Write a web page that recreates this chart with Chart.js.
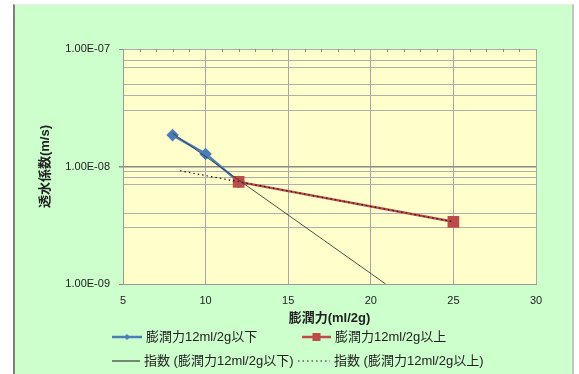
<!DOCTYPE html>
<html><head><meta charset="utf-8">
<script src="https://cdn.jsdelivr.net/npm/chart.js@4.4.1/dist/chart.umd.min.js"></script>
<style>
html,body{margin:0;padding:0;background:#fff;}
#wrap{position:relative;width:579px;height:374px;overflow:hidden;}
#frame{position:absolute;left:13px;top:4px;width:561px;height:370px;background:#ccffcc;border-left:2px solid #7f7f7f;border-right:2px solid #c4c4c4;border-top:1px solid #e6eee6;box-sizing:border-box;}
#c{position:absolute;left:0;top:0;}
#legend{position:absolute;left:0;top:0;width:579px;height:374px;font-family:"Liberation Sans","Noto Sans CJK JP",sans-serif;font-size:13px;color:#222;}
.item{position:absolute;display:flex;align-items:center;white-space:nowrap;height:16px;line-height:16px;}
.item svg{display:block;margin-right:4px;}
</style></head>
<body>
<div id="wrap">
  <div id="frame"></div>
  <canvas id="c" width="579" height="374"></canvas>
  <div id="legend"></div>
</div>
<script>
// ---- data ----
const blueX = [8, 10, 12];
const blueY = [1.85e-8, 1.28e-8, 7.4e-9];
const redX = [12, 25];
const redY = [7.4e-9, 3.38e-9];
const trendBelowX = [8, 20.9];
const trendBelowY = [1.92e-8, 1.0e-9];
const trendAboveX = [8.45, 25];
const trendAboveY = [9.2e-9, 3.38e-9];
const seriesNames = ['膨潤力12ml/2g以下', '膨潤力12ml/2g以上', '指数 (膨潤力12ml/2g以下)', '指数 (膨潤力12ml/2g以上)'];
const xTicks = [5, 10, 15, 20, 25, 30];
const yMajorTicks = [1e-9, 1e-8, 1e-7];
const yTickLabels = ['1.00E-09', '1.00E-08', '1.00E-07'];
const yMinorGrid = [3e-9, 4e-9, 7e-9, 8e-9, 9e-9, 3e-8, 4e-8, 5e-8, 7e-8, 8e-8];
const xTitle = '膨潤力(ml/2g)';
const yTitle = '透水係数(m/s)';

const pts = (xs, ys) => xs.map((x, i) => ({x: x, y: ys[i]}));
const FONT = '"Liberation Sans","Noto Sans CJK JP",sans-serif';

const bgPlugin = {
  id: 'plotBg',
  beforeDraw(chart) {
    const a = chart.chartArea, ctx = chart.ctx;
    ctx.save(); ctx.fillStyle = '#ffffcc';
    ctx.fillRect(a.left, a.top, a.right - a.left, a.bottom - a.top);
    ctx.restore();
  }
};
const topTicksPlugin = {
  id: 'topTicks',
  afterDatasetsDraw(chart) {
    const xs = chart.scales.x, a = chart.chartArea, ctx = chart.ctx;
    ctx.save(); ctx.strokeStyle = '#8a8a8a'; ctx.lineWidth = 1;
    for (let v = xs.min + 1; v < xs.max; v++) {
      if (xTicks.includes(v)) continue;
      const px = Math.round(xs.getPixelForValue(v)) + 0.5;
      ctx.beginPath(); ctx.moveTo(px, a.top); ctx.lineTo(px, a.top + 3); ctx.stroke();
    }
    ctx.restore();
  }
};

const chart = new Chart(document.getElementById('c'), {
  type: 'scatter',
  data: {
    datasets: [
      {label: seriesNames[0], data: pts(blueX, blueY), showLine: true, borderColor: '#4a7ebb', backgroundColor: '#4a7ebb',
       borderWidth: 2.5, pointStyle: 'rectRot', pointRadius: 4.5, pointHoverRadius: 4.5, order: 4},
      {label: seriesNames[1], data: pts(redX, redY), showLine: true, borderColor: '#be4b48', backgroundColor: '#be4b48',
       borderWidth: 2.5, pointStyle: 'rect', pointRadius: 6.5, pointHoverRadius: 6.5, order: 3},
      {label: seriesNames[2], data: pts(trendBelowX, trendBelowY), showLine: true, borderColor: '#3a3a3a',
       borderWidth: 0.9, pointRadius: 0, order: 1},
      {label: seriesNames[3], data: pts(trendAboveX, trendAboveY), showLine: true, borderColor: '#1a1a1a',
       borderWidth: 1.2, borderDash: [1.5, 3], pointRadius: 0, order: 2}
    ]
  },
  options: {
    responsive: false, animation: false, devicePixelRatio: 1,
    layout: {padding: {left: 0, top: 49, right: 43, bottom: 0}},
    plugins: {legend: {display: false}, tooltip: {enabled: false}},
    scales: {
      x: {
        type: 'linear', min: 5, max: 30,
        afterBuildTicks: s => { s.ticks = xTicks.map(v => ({value: v})); },
        afterFit: s => { s.height = 90; },
        ticks: {font: {family: FONT, size: 11}, color: '#222', padding: 10},
        grid: {color: '#a8a8a8', lineWidth: 1, drawTicks: false},
        border: {display: true, color: '#9a9a9a', width: 1},
        title: {display: true, text: xTitle, font: {family: FONT, size: 13, weight: 'bold'}, color: '#222', padding: {top: 0, bottom: 48}}
      },
      y: {
        type: 'logarithmic', min: 1e-9, max: 1e-7,
        afterBuildTicks: s => {
          s.ticks = [...yMajorTicks, ...yMinorGrid].sort((a, b) => a - b).map(v => ({value: v}));
        },
        afterFit: s => { s.width = 123; },
        ticks: {
          autoSkip: false, font: {family: FONT, size: 11}, color: '#222', padding: 9,
          callback: v => { const i = yMajorTicks.indexOf(v); return i >= 0 ? yTickLabels[i] : ''; }
        },
        grid: {
          color: c => (c.tick && c.tick.value === 1e-8) ? '#8a8a8a' : '#aeaeae',
          lineWidth: c => (c.tick && c.tick.value === 1e-8) ? 1.5 : 1,
          tickLength: 4,
          tickColor: c => (c.tick && yMajorTicks.includes(c.tick.value)) ? '#8a8a8a' : 'rgba(0,0,0,0)'
        },
        border: {display: true, color: '#9a9a9a', width: 1},
        title: {display: true, text: yTitle, font: {family: FONT, size: 13, weight: 'bold'}, color: '#222', padding: {top: 38, bottom: 0}}
      }
    }
  },
  plugins: [bgPlugin, topTicksPlugin]
});

// ---- HTML legend built from the datasets ----
const slots = [{x: 112, y: 337, w: 30}, {x: 302, y: 337, w: 29}, {x: 112, y: 361, w: 28}, {x: 298, y: 361, w: 32}];
const leg = document.getElementById('legend');
chart.data.datasets.forEach((ds, i) => {
  const s = slots[i];
  const el = document.createElement('div');
  el.className = 'item';
  el.style.left = s.x + 'px'; el.style.top = (s.y - 8) + 'px';
  const w = s.w, h = 12, cy = 6;
  let svg = `<svg width="${w}" height="${h}" viewBox="0 0 ${w} ${h}">`;
  const dash = ds.borderDash ? `stroke-dasharray="${ds.borderDash.join(' ')}"` : '';
  const sw = ds.borderDash ? ds.borderWidth : Math.max(ds.borderWidth, 1.2);
  svg += `<line x1="0" y1="${cy}" x2="${w}" y2="${cy}" stroke="${ds.borderColor}" stroke-width="${sw}" ${dash}/>`;
  if (ds.pointRadius > 0) {
    const cx = w / 2;
    if (ds.pointStyle === 'rectRot') {
      const r = 3;
      svg += `<polygon points="${cx},${cy - r} ${cx + r},${cy} ${cx},${cy + r} ${cx - r},${cy}" fill="${ds.backgroundColor}"/>`;
    } else {
      const r = 4;
      svg += `<rect x="${cx - r}" y="${cy - r}" width="${2 * r}" height="${2 * r}" fill="${ds.backgroundColor}"/>`;
    }
  }
  svg += '</svg>';
  el.innerHTML = svg + '<span>' + ds.label + '</span>';
  leg.appendChild(el);
});
</script>
</body></html>
